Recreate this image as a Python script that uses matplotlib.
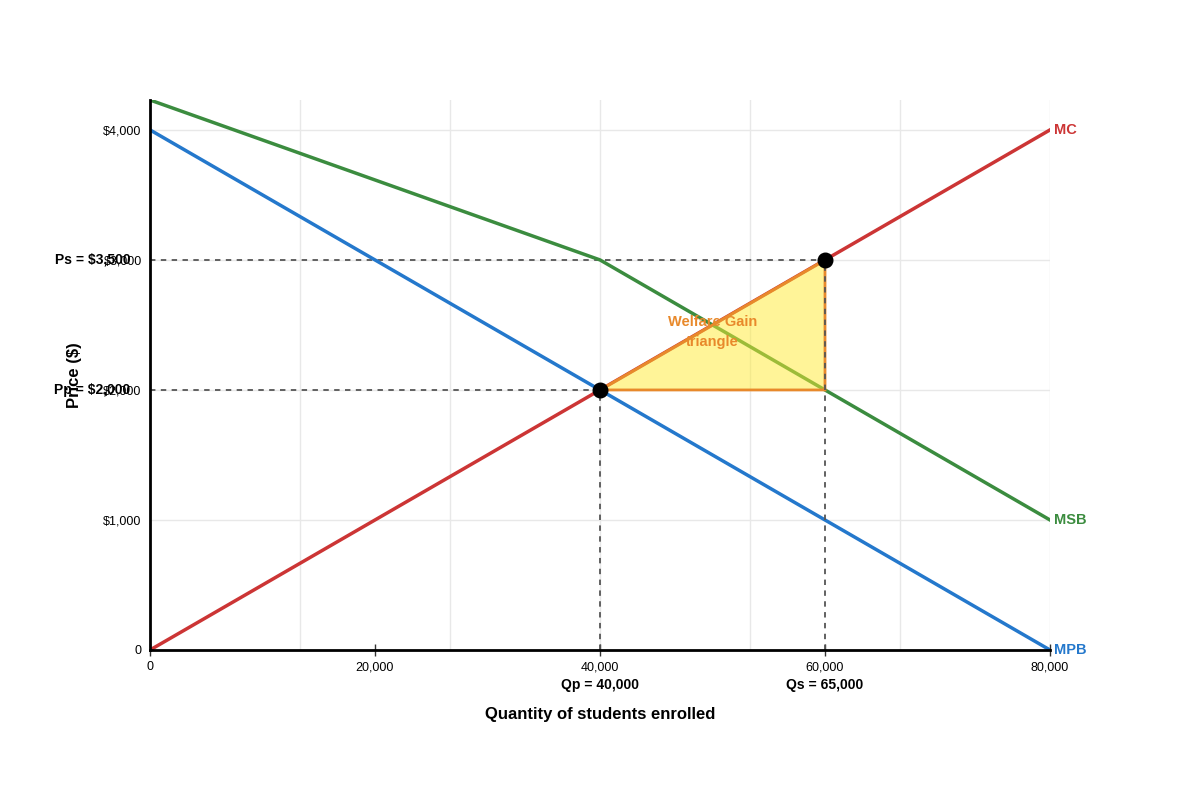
import numpy as np
import matplotlib.pyplot as plt
from matplotlib import transforms

plt.rcParams['font.family'] = ['Liberation Sans', 'DejaVu Sans']

# curves (quantity, price)
mc_q = [0, 80000]
mc_p = [0, 4000]
mpb_q = [0, 80000]
mpb_p = [4000, 0]
msb_q = [0, 40000, 80000]
msb_p = [4230, 3000, 1000]

# equilibria
qp, pp = 40000, 2000
qs, ps = 60000, 3000
tri_q = [40000, 60000, 60000]
tri_p = [2000, 3000, 2000]

xticks = [0, 20000, 40000, 60000, 80000]
xtick_labels = ['0', '20,000', '40,000', '60,000', '80,000']
yticks = [0, 1000, 2000, 3000, 4000]
ytick_labels = ['0', '$1,000', '$2,000', '$3,000', '$4,000']
xgrid = [80000 / 6 * i for i in range(1, 7)]

RED = '#cc3535'
BLUE = '#2478cc'
GREEN = '#3b8c3f'
ORANGE = '#e8892b'
DASH = '#555555'

fig = plt.figure(figsize=(12, 8), dpi=100)
ax = fig.add_axes([0.125, 0.1875, 0.75, 0.6875])
ax.set_xlim(0, 80000)
ax.set_ylim(0, 4230)

# grid
for g in xgrid:
    ax.axvline(g, color='#e8e8e8', lw=1, zorder=0)
for g in yticks:
    ax.axhline(g, color='#e8e8e8', lw=1, zorder=0)

# dashed guides
ax.plot([0, qs], [ps, ps], ls=(0, (3, 3)), color=DASH, lw=1.3, zorder=3)
ax.plot([0, qp], [pp, pp], ls=(0, (3, 3)), color=DASH, lw=1.3, zorder=3)
ax.plot([qp, qp], [0, pp], ls=(0, (3, 3)), color=DASH, lw=1.3, zorder=3)
ax.plot([qs, qs], [0, ps], ls=(0, (3, 3)), color=DASH, lw=1.3, zorder=5.5)

# curves
ax.plot(mc_q, mc_p, color=RED, lw=2.5, zorder=4)
ax.plot(mpb_q, mpb_p, color=BLUE, lw=2.5, zorder=4)
ax.plot(msb_q, msb_p, color=GREEN, lw=2.5, zorder=4)

# welfare triangle (semi-transparent, over the curves)
ax.fill(tri_q, tri_p, facecolor=(1.0, 0.92, 0.2, 0.5), edgecolor=ORANGE, lw=2, zorder=5)

ax.scatter([qp, qs], [pp, ps], s=110, color='black', zorder=6)

# curve labels
for name, q, p, c in [('MC', mc_q[-1], mc_p[-1], RED),
                      ('MSB', msb_q[-1], msb_p[-1], GREEN),
                      ('MPB', mpb_q[-1], mpb_p[-1], BLUE)]:
    ax.annotate(name, (q, p), xytext=(3, 0), textcoords='offset points',
                color=c, fontsize=10.5, fontweight='bold', va='center', ha='left',
                annotation_clip=False)

ax.text(50000, 2445, 'Welfare Gain\ntriangle', color=ORANGE, fontsize=10.5,
        fontweight='bold', ha='center', va='center', linespacing=1.5, zorder=5)

# price labels on the axis
ytr = transforms.blended_transform_factory(ax.transAxes, ax.transData)
ax.text(-0.022, ps, 'Ps = $3,500', transform=ytr, ha='right', va='center',
        fontsize=10, fontweight='bold')
ax.text(-0.022, pp, 'Pp = $2,000', transform=ytr, ha='right', va='center',
        fontsize=10, fontweight='bold')

# quantity labels
xtr = transforms.blended_transform_factory(ax.transData, fig.transFigure)
ax.text(qp, 1 - 685 / 800, 'Qp = 40,000', transform=xtr, ha='center', va='center',
        fontsize=10, fontweight='bold')
ax.text(qs, 1 - 685 / 800, 'Qs = 65,000', transform=xtr, ha='center', va='center',
        fontsize=10, fontweight='bold')

fig.text(0.5, 1 - 715 / 800, 'Quantity of students enrolled', ha='center', va='center',
         fontsize=12, fontweight='bold')
fig.text(75 / 1200, 1 - 375 / 800, 'Price ($)', rotation=90, ha='center', va='center',
         fontsize=12, fontweight='bold')

ax.set_xticks(xticks)
ax.set_xticklabels(xtick_labels, fontsize=9)
ax.set_yticks(yticks)
ax.set_yticklabels(ytick_labels, fontsize=9)
ax.tick_params(axis='x', direction='inout', length=8, width=1, color='#333333', pad=4)
ax.tick_params(axis='y', length=0, pad=6)

for s in ['top', 'right']:
    ax.spines[s].set_visible(False)
for s in ['left', 'bottom']:
    ax.spines[s].set_linewidth(2)
    ax.spines[s].set_zorder(7)

fig.savefig('out.png', dpi=100, facecolor='white')
